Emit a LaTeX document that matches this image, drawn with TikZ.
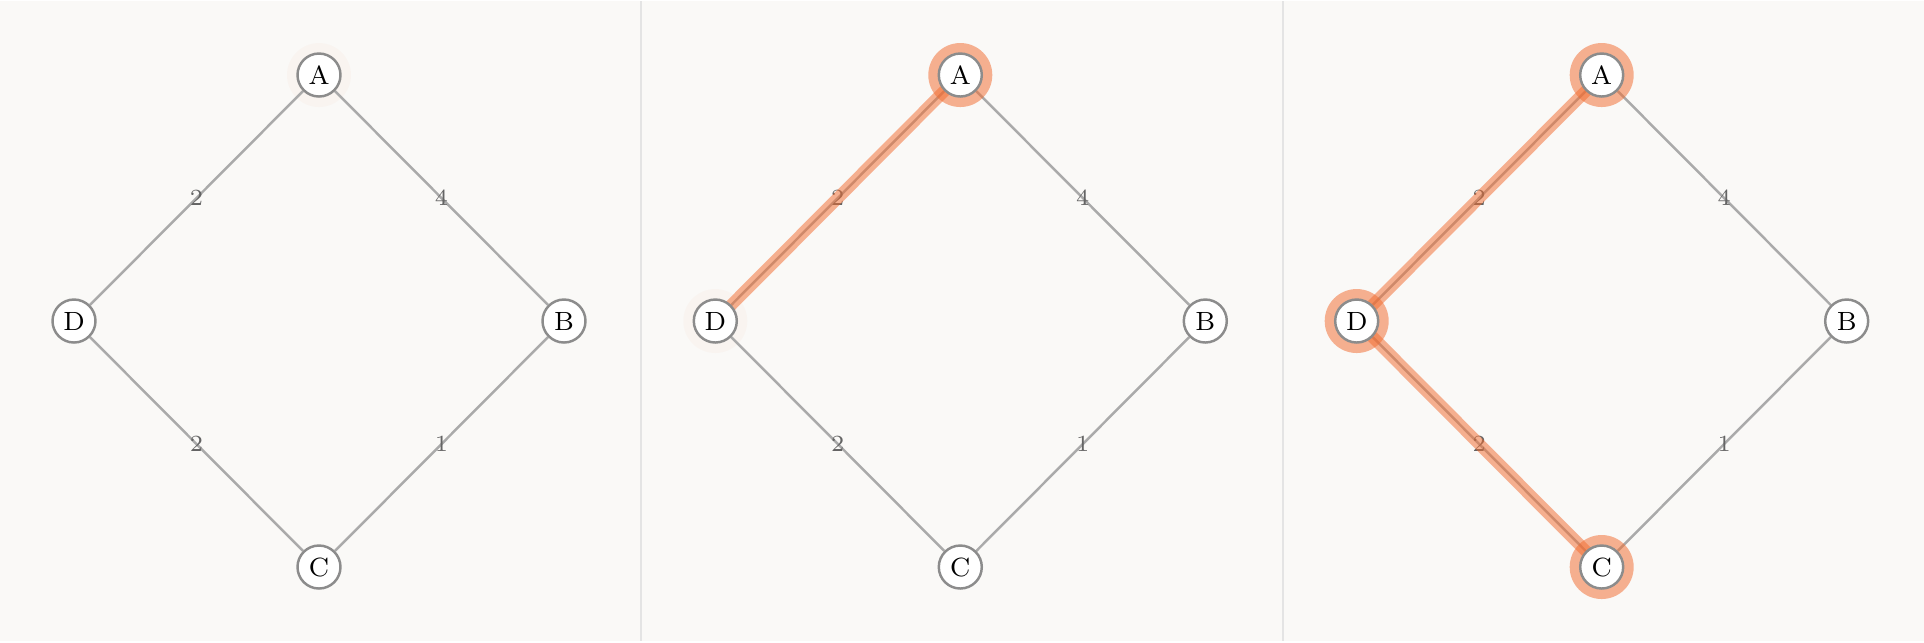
\documentclass[tikz,border=0pt]{standalone}
\usepackage{tikz}

\definecolor{panelbg}{RGB}{250,249,247}
\definecolor{rulegray}{RGB}{228,228,228}
\definecolor{edgegray}{RGB}{170,170,170}
\definecolor{nodegray}{RGB}{140,140,140}
\definecolor{labelgray}{RGB}{100,100,100}
\definecolor{pathorange}{RGB}{242,108,48}

\pgfdeclarelayer{back}
\pgfdeclarelayer{edges}
\pgfsetlayers{back,edges,main}

\tikzset{
	vertex/.style={circle, draw=nodegray, line width=0.7pt, fill=white, minimum size=0.43cm, inner sep=0pt, font=\fontsize{7.5}{9}\selectfont},
	wedge/.style={draw=edgegray, line width=0.7pt},
	weight/.style={text=labelgray, font=\fontsize{6.6}{8}\selectfont, inner sep=1pt},
	pathedge/.style={draw=pathorange, line width=0.12cm, opacity=0.52},
	halo/.style={fill=pathorange, opacity=0.52},
	glow/.style={fill=pathorange, opacity=0.03}
}

\begin{document}
\begin{tikzpicture}
	\begin{pgfonlayer}{back}
		\fill[panelbg] (0,0) rectangle (19.24,6.40);
		\draw[rulegray, line width=0.6pt] (6.413,0) -- (6.413,6.40);
		\draw[rulegray, line width=0.6pt] (12.827,0) -- (12.827,6.40);
	\end{pgfonlayer}
	
	% panel 1: start
	\node[vertex] (A1) at (3.19,5.66) {A};
	\node[vertex] (B1) at (5.64,3.20) {B};
	\node[vertex] (C1) at (3.19,0.74) {C};
	\node[vertex] (D1) at (0.74,3.20) {D};
	\begin{pgfonlayer}{edges}
		\fill[glow] (A1.center) circle (0.32);
		\draw[wedge] (A1) -- node[weight] {2} (D1);
		\draw[wedge] (A1) -- node[weight] {4} (B1);
		\draw[wedge] (B1) -- node[weight] {1} (C1);
		\draw[wedge] (D1) -- node[weight] {2} (C1);
	\end{pgfonlayer}
	
	% panel 2: A -> D
	\node[vertex] (A2) at (9.603,5.66) {A};
	\node[vertex] (B2) at (12.053,3.20) {B};
	\node[vertex] (C2) at (9.603,0.74) {C};
	\node[vertex] (D2) at (7.153,3.20) {D};
	\begin{pgfonlayer}{edges}
		\fill[glow] (D2.center) circle (0.32);
		\draw[wedge] (A2) -- node[weight] {2} (D2);
		\draw[wedge] (A2) -- node[weight] {4} (B2);
		\draw[wedge] (B2) -- node[weight] {1} (C2);
		\draw[wedge] (D2) -- node[weight] {2} (C2);
		\draw[pathedge] (A2.center) -- (D2.center);
		\fill[halo] (A2.center) circle (0.32);
	\end{pgfonlayer}
	
	% panel 3: A -> D -> C
	\node[vertex] (A3) at (16.017,5.66) {A};
	\node[vertex] (B3) at (18.467,3.20) {B};
	\node[vertex] (C3) at (16.017,0.74) {C};
	\node[vertex] (D3) at (13.567,3.20) {D};
	\begin{pgfonlayer}{edges}
		\draw[wedge] (A3) -- node[weight] {2} (D3);
		\draw[wedge] (A3) -- node[weight] {4} (B3);
		\draw[wedge] (B3) -- node[weight] {1} (C3);
		\draw[wedge] (D3) -- node[weight] {2} (C3);
		\draw[pathedge] (A3.center) -- (D3.center);
		\draw[pathedge] (D3.center) -- (C3.center);
		\fill[halo] (A3.center) circle (0.32);
		\fill[halo] (D3.center) circle (0.32);
		\fill[halo] (C3.center) circle (0.32);
	\end{pgfonlayer}
\end{tikzpicture}
\end{document}
